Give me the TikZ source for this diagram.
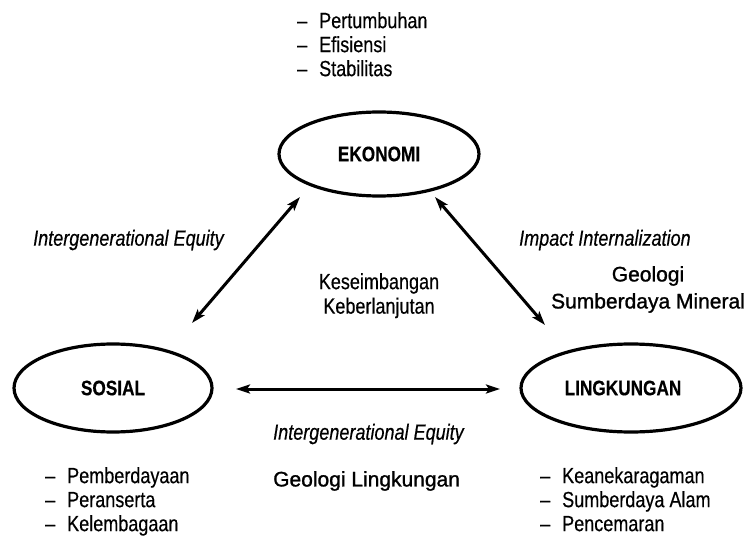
\documentclass[tikz,border=0pt]{standalone}
\usepackage{fontspec}
\setmainfont{Liberation Sans}
\newfontfamily\narrowfont{Liberation Sans}[FakeStretch=0.82,FakeBold=0.4]
\newfontfamily\geofont{Liberation Sans}[FakeBold=1.2]
\usetikzlibrary{shapes.geometric,arrows.meta}
\newcommand{\listline}[1]{\makebox[22pt][l]{–}#1}

\begin{document}
\begin{tikzpicture}[x=1pt,y=-1pt,
  pilar/.style={ellipse,draw,line width=3.2pt,inner sep=0pt,font=\narrowfont\bfseries\fontsize{21}{21}\selectfont},
  relasi/.style={{Stealth[length=14pt,width=9pt,inset=3pt]}-{Stealth[length=14pt,width=9pt,inset=3pt]},line width=3pt},
  teks/.style={font=\narrowfont\fontsize{22}{24.5}\selectfont,inner sep=0pt},
  miring/.style={font=\narrowfont\itshape\fontsize{22}{24.5}\selectfont,inner sep=0pt,anchor=west},
  geo/.style={font=\geofont\fontsize{21}{27}\selectfont,inner sep=0pt,align=center},
  daftar/.style={teks,align=left,anchor=north west}]
\useasboundingbox (0,0) rectangle (746,537);
% the three pillars
\node[pilar,minimum width=200pt,minimum height=84pt] (eko) at (379,154) {EKONOMI};
\node[pilar,minimum width=198pt,minimum height=88pt] (sos) at (113,388) {SOSIAL};
\node[pilar,minimum width=220pt,minimum height=88pt] (ling) at (631,388) {LINGKUNGAN\hspace*{16pt}};
% arrow ends
\coordinate (eko-sw) at (300,197);
\coordinate (sos-ne) at (192,323);
\coordinate (eko-se) at (435,197);
\coordinate (ling-nw) at (545,325);
\coordinate (sos-e) at (236,389);
\coordinate (ling-w) at (500,389);
\draw[relasi] (eko-sw) -- (sos-ne);
\draw[relasi] (eko-se) -- (ling-nw);
\draw[relasi] (sos-e) -- (ling-w);
% labels of the relations
\node[miring] (ie-kiri) at (33,240) {Intergenerational Equity};
\node[miring] (impact) at (519,240) {Impact Internalization};
\node[miring] (ie-bawah) at (273,434) {Intergenerational Equity};
\node[teks,align=center,anchor=north] (tengah) at (379,273) {Keseimbangan\\Keberlanjutan};
\node[geo,anchor=north] (geo-mineral) at (648,266) {Geologi\\Sumberdaya Mineral};
\node[geo,anchor=west] (geo-ling) at (273,481) {Geologi Lingkungan};
% lists
\node[daftar,font=\narrowfont\fontsize{22}{24}\selectfont] (eko-list) at (297,12) {\listline{Pertumbuhan}\\\listline{Efisiensi}\\\listline{Stabilitas}};
\node[daftar,font=\narrowfont\fontsize{22}{24}\selectfont] (sos-list) at (45,467) {\listline{Pemberdayaan}\\\listline{Peranserta}\\\listline{Kelembagaan}};
\node[daftar,font=\narrowfont\fontsize{22}{24}\selectfont] (ling-list) at (540,467) {\listline{Keanekaragaman}\\\listline{Sumberdaya Alam}\\\listline{Pencemaran}};
\end{tikzpicture}
\end{document}
